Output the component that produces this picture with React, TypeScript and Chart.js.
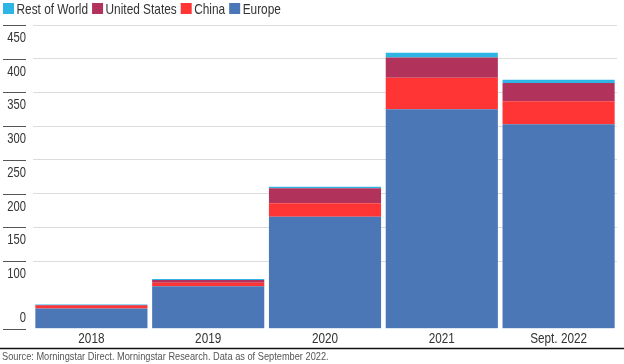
import React, { useEffect, useRef } from "react";
import { Chart, registerables } from "chart.js";

Chart.register(...registerables);

const categories = ["2018", "2019", "2020", "2021", "Sept. 2022"];
const europe = [30, 63, 166, 325, 303];
const china = [4, 5, 20, 47, 34];
const unitedStates = [1, 4, 22, 30, 27];
const restOfWorld = [1, 1.5, 2.3, 7, 5];
const yMax = 450;
const yStep = 50;
const hiddenYTicks = [50];
const sourceNote = "Source: Morningstar Direct. Morningstar Research. Data as of September 2022.";

const FONT = "'Liberation Sans', Arial, sans-serif";

const COLORS = {
  europe: "#4B77B7",
  china: "#FF3535",
  us: "#B1325B",
  row: "#2DB6E5",
};

// draws real text, horizontally condensed to mimic a narrow typeface
function condensedText(
  ctx: CanvasRenderingContext2D,
  text: string,
  x: number,
  y: number,
  size: number,
  sx: number,
  align: CanvasTextAlign,
  color: string
): number {
  ctx.save();
  ctx.font = `${size}px ${FONT}`;
  ctx.fillStyle = color;
  ctx.textBaseline = "middle";
  ctx.textAlign = align;
  ctx.translate(x, y);
  ctx.scale(sx, 1);
  ctx.fillText(text, 0, 0);
  const w = ctx.measureText(text).width * sx;
  ctx.restore();
  return w;
}

const overlayPlugin = {
  id: "overlay",
  afterDraw(chart: any) {
    const ctx = chart.ctx as CanvasRenderingContext2D;
    const yScale = chart.scales.y;
    const xScale = chart.scales.x;
    const W = chart.width;
    ctx.save();

    // Legend (reverse dataset order)
    let x = 3;
    const items = [...chart.data.datasets].reverse();
    for (const ds of items) {
      ctx.fillStyle = ds.backgroundColor;
      ctx.fillRect(x, 3, 11, 11);
      const tx = x + 13.5;
      const w = condensedText(ctx, ds.label, tx, 9.5, 15, 0.79, "left", "#333");
      x = tx + w + 4;
    }

    // Y axis labels and short dark tick marks
    for (const t of yScale.ticks) {
      const v = t.value;
      if (hiddenYTicks.includes(v)) continue;
      const py = yScale.getPixelForValue(v);
      ctx.strokeStyle = "#555";
      ctx.lineWidth = 1;
      ctx.beginPath();
      ctx.moveTo(3, Math.round(py) + 0.5);
      ctx.lineTo(26, Math.round(py) + 0.5);
      ctx.stroke();
      const ly = v === 0 ? py - 10.5 : py + 13;
      condensedText(ctx, String(v), 26, ly, 14, 0.8, "right", "#333");
    }

    // X axis category labels
    categories.forEach((c, i) => {
      const px = xScale.getPixelForValue(i);
      condensedText(ctx, c, px, 339.5, 14, 0.84, "center", "#333");
    });

    // Bottom rule and source
    ctx.strokeStyle = "#111";
    ctx.lineWidth = 1.5;
    ctx.beginPath();
    ctx.moveTo(0, 348.5);
    ctx.lineTo(W, 348.5);
    ctx.stroke();

    condensedText(ctx, sourceNote, 2, 357, 10.5, 0.88, "left", "#555");
    ctx.restore();
  },
};

export default function App() {
  const ref = useRef<HTMLCanvasElement | null>(null);
  useEffect(() => {
    document.body.style.margin = "0";
    if (!ref.current) return;
    const mk = (label: string, data: number[], color: string) => ({
      label,
      data,
      backgroundColor: color,
      borderWidth: 0,
      barPercentage: 0.96,
      categoryPercentage: 1,
    });
    const chart = new Chart(ref.current, {
      type: "bar",
      data: {
        labels: categories,
        datasets: [
          mk("Europe", europe, COLORS.europe),
          mk("China", china, COLORS.china),
          mk("United States", unitedStates, COLORS.us),
          mk("Rest of World", restOfWorld, COLORS.row),
        ],
      },
      options: {
        animation: false,
        responsive: true,
        maintainAspectRatio: false,
        layout: { padding: { left: 33, right: 7, top: 25, bottom: 35.3 } },
        plugins: {
          legend: { display: false },
          tooltip: { enabled: false },
          title: { display: false },
        },
        scales: {
          x: {
            stacked: true,
            grid: { display: false, drawTicks: false },
            border: { display: false },
            ticks: { display: false },
          },
          y: {
            stacked: true,
            min: 0,
            max: yMax,
            ticks: { stepSize: yStep, display: false },
            grid: {
              drawTicks: false,
              color: (c: any) =>
                c.tick && (c.tick.value === 0 || hiddenYTicks.includes(c.tick.value))
                  ? "rgba(0,0,0,0)"
                  : "#DCDCDC",
              lineWidth: 1,
            },
            border: { display: false },
          },
        },
      },
      plugins: [overlayPlugin],
    });
    return () => chart.destroy();
  }, []);
  return (
    <div style={{ position: "fixed", left: 0, top: 0, width: 624, height: 364, background: "#fff" }}>
      <canvas ref={ref} />
    </div>
  );
}
